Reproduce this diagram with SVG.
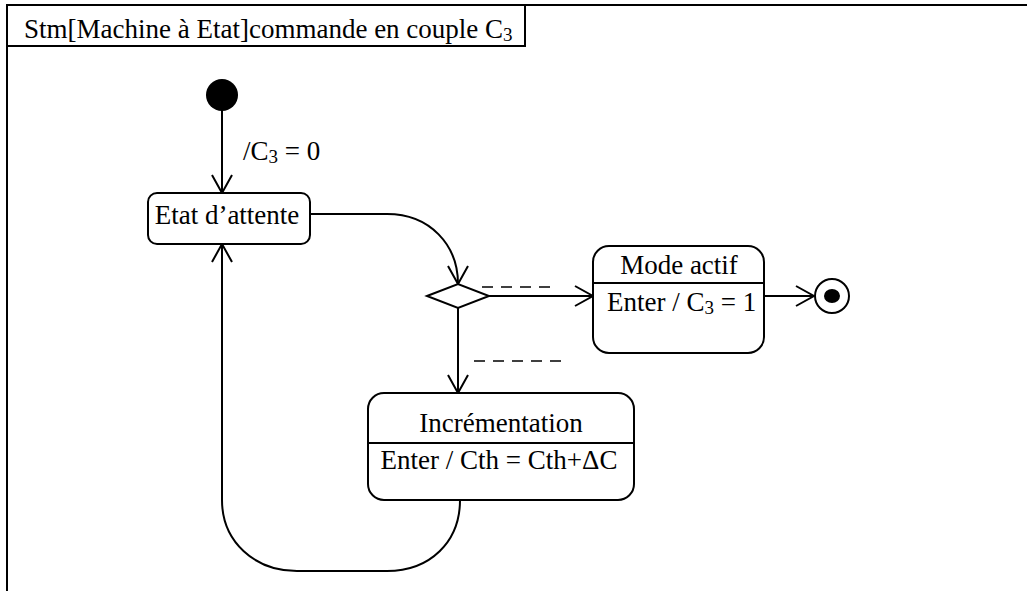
<svg xmlns="http://www.w3.org/2000/svg" width="1027" height="591" viewBox="0 0 1027 591">
  <defs>
    <marker id="open" viewBox="0 0 22 22" refX="20" refY="11" markerWidth="22" markerHeight="22" markerUnits="userSpaceOnUse" orient="auto">
      <path d="M2,1 L20,11 L2,21" fill="none" stroke="#000" stroke-width="2"/>
    </marker>
  </defs>
  <style>
    text { font-family: "Liberation Serif", "DejaVu Serif", serif; font-size: 27px; fill: #000; }
    .sub { font-size: 19px; }
    .box { fill: #fff; stroke: #000; stroke-width: 2; }
    .line { fill: none; stroke: #000; stroke-width: 2; }
    .dash { fill: none; stroke: #000; stroke-width: 1.5; stroke-dasharray: 11 8; }
  </style>
  <rect width="1027" height="591" fill="#fff"/>

  <!-- frame -->
  <g id="frame">
    <path class="line" d="M7,591 L7,5 L1027,5" stroke-width="2.5"/>
    <path class="line" d="M7,46 L525,46 L525,5"/>
    <text x="24" y="38">Stm[Machine à Etat]commande en couple C<tspan class="sub" dy="3">3</tspan></text>
  </g>

  <!-- connectors -->
  <g id="connectors">
    <path class="line" d="M222,110 L222,193" marker-end="url(#open)"/>
    <text x="243" y="160">/C<tspan class="sub" dy="3">3</tspan><tspan dy="-3"> = 0</tspan></text>
    <path class="line" d="M310,214 L387,214 C430,214 458,245 458,284" marker-end="url(#open)"/>
    <path class="line" d="M489,296 L593,296" marker-end="url(#open)"/>
    <path class="dash" d="M482,287 L556,287"/>
    <path class="line" d="M764,296 L814,296" marker-end="url(#open)"/>
    <path class="line" d="M458,307 L458,393" marker-end="url(#open)"/>
    <path class="dash" d="M474,361 L568,361"/>
    <path class="line" d="M460,500 C460,542 430,571 387,571 L297,571 C255,571 222,542 222,500 L222,244" marker-end="url(#open)"/>
  </g>

  <!-- initial state -->
  <g id="initial">
    <circle cx="222" cy="95" r="16" fill="#000"/>
  </g>

  <!-- waiting state -->
  <g id="etat-attente">
    <rect class="box" x="148" y="193" width="162" height="51" rx="9"/>
    <text x="227" y="224" text-anchor="middle">Etat d’attente</text>
  </g>

  <!-- choice -->
  <g id="choice">
    <path class="box" d="M427,296 L458,284 L489,296 L458,308 Z"/>
  </g>

  <!-- active mode -->
  <g id="mode-actif">
    <rect class="box" x="593" y="246" width="171" height="107" rx="16"/>
    <path class="line" d="M593,283 L764,283"/>
    <text x="679" y="274" text-anchor="middle">Mode actif</text>
    <text x="607" y="311">Enter / C<tspan class="sub" dy="3">3</tspan><tspan dy="-3"> = 1</tspan></text>
  </g>

  <!-- final state -->
  <g id="final">
    <circle cx="832" cy="296" r="17" fill="#fff" stroke="#000" stroke-width="2"/>
    <ellipse cx="832" cy="296" rx="8" ry="7" fill="#000"/>
  </g>

  <!-- increment state -->
  <g id="incrementation">
    <rect class="box" x="368" y="393" width="266" height="107" rx="16"/>
    <path class="line" d="M368,443 L634,443"/>
    <text x="501" y="432" text-anchor="middle">Incrémentation</text>
    <text x="499" y="469" text-anchor="middle">Enter / Cth = Cth+ΔC</text>
  </g>
</svg>
